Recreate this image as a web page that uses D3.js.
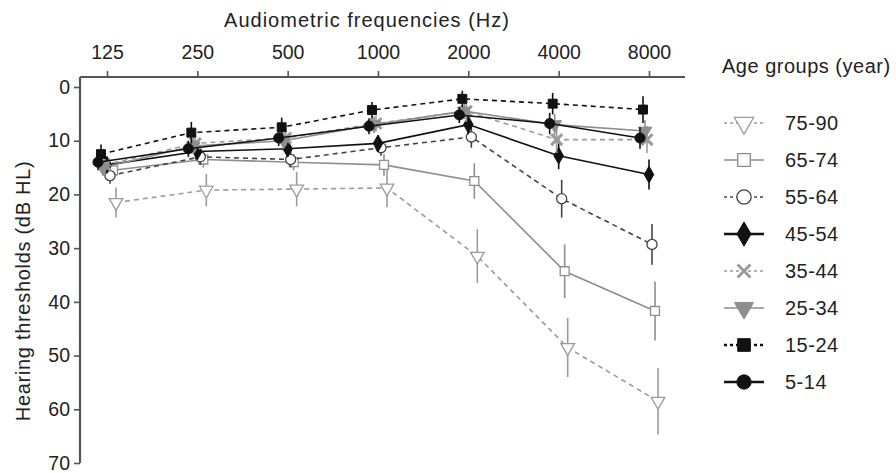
<!DOCTYPE html>
<html>
<head>
<meta charset="utf-8">
<script src="https://cdn.jsdelivr.net/npm/d3@7"></script>
<style>
body { margin: 0; background: #fff; }
text { font-family: "Liberation Sans", Arial, sans-serif; fill: #222; }
</style>
</head>
<body>
<div id="chart"></div>
<script>
var width = 896;
var height = 473;

// Frequencies (Hz) and age groups
var frequencies = [125, 250, 500, 1000, 2000, 4000, 8000];
var ageGroups = ["75-90", "65-74", "55-64", "45-54", "35-44", "25-34", "15-24", "5-14"];
var yTicks = [0, 10, 20, 30, 40, 50, 60, 70];

// Mean hearing thresholds (dB HL), one row per age group
var t75_90 = [21.5, 19.2, 19.0, 18.8, 31.5, 48.5, 58.5];
var t65_74 = [15.5, 13.5, 14.0, 14.5, 17.5, 34.3, 41.7];
var t55_64 = [16.5, 13.0, 13.5, 11.3, 9.3, 20.8, 29.3];
var t45_54 = [14.5, 12.0, 11.5, 10.5, 7.0, 12.8, 16.3];
var t35_44 = [14.5, 10.5, 9.5, 6.8, 4.5, 9.8, 9.8];
var t25_34 = [15.0, 11.0, 10.0, 7.0, 4.5, 7.0, 8.2];
var t15_24 = [12.5, 8.5, 7.5, 4.3, 2.2, 3.1, 4.2];
var t5_14 = [14.0, 11.5, 9.5, 7.3, 5.2, 6.8, 9.5];
var thresholds = [t75_90, t65_74, t55_64, t45_54, t35_44, t25_34, t15_24, t5_14];

// Error bar half-lengths (dB)
var e75_90 = [2.8, 3.0, 3.2, 3.6, 5.0, 5.5, 6.2];
var e65_74 = [1.5, 1.5, 1.5, 2.0, 3.3, 5.0, 5.5];
var e55_64 = [1.5, 1.5, 1.5, 1.5, 2.0, 3.5, 3.8];
var e45_54 = [1.5, 1.5, 1.5, 1.5, 1.8, 2.5, 2.8];
var e35_44 = [1.5, 1.5, 1.5, 1.5, 2.0, 2.5, 2.5];
var e25_34 = [1.5, 1.5, 1.5, 1.5, 1.5, 2.0, 2.0];
var e15_24 = [1.8, 2.0, 1.8, 1.5, 1.5, 2.0, 2.5];
var e5_14 = [1.5, 1.5, 1.5, 1.5, 1.5, 2.0, 2.0];
var errors = [e75_90, e65_74, e55_64, e45_54, e35_44, e25_34, e15_24, e5_14];

// Look of each series (same order as ageGroups)
var styles = [
    { color: "#9b9b9b", dash: "5,4", symbol: "triDown", filled: false, dx: 9 },
    { color: "#8e8e8e", dash: null, symbol: "square", filled: false, dx: 6 },
    { color: "#444", dash: "5,4", symbol: "circle", filled: false, dx: 3 },
    { color: "#111", dash: null, symbol: "diamond", filled: true, dx: 0 },
    { color: "#9b9b9b", dash: "5,4", symbol: "x", filled: false, dx: -2 },
    { color: "#8e8e8e", dash: null, symbol: "triDown", filled: true, dx: -4 },
    { color: "#111", dash: "5,4", symbol: "square", filled: true, dx: -6 },
    { color: "#111", dash: null, symbol: "circle", filled: true, dx: -9 }
];

var xScale = d3.scaleLog().base(2)
    .domain([125, 8000])
    .range([107, 649]);

var yScale = d3.scaleLinear()
    .domain([0, 70])
    .range([87, 463]);

var axisTop = 77;
var axisLeft = 80;

var svg = d3.select("#chart")
    .append("svg")
    .attr("width", width)
    .attr("height", height);

function symbolPath(name, size) {
    var type = { triDown: d3.symbolTriangle, square: d3.symbolSquare, circle: d3.symbolCircle,
                 diamond: d3.symbolDiamond, x: d3.symbolX }[name];
    return d3.symbol().type(type).size(size)();
}

function drawMarker(g, st, size) {
    var p = g.append("path")
        .attr("d", symbolPath(st.symbol, size))
        .attr("stroke", st.color);
    if (st.symbol === "triDown") p.attr("transform", "rotate(180)");
    if (st.symbol === "x") {
        p.attr("fill", "none").attr("stroke-width", 3);
    } else {
        p.attr("fill", st.filled ? st.color : "#fff")
         .attr("stroke-width", st.filled ? 1 : 1.3);
    }
}

// Series: lines, error bars, markers
ageGroups.forEach(function (grp, i) {
    var st = styles[i];
    var pts = frequencies.map(function (f, j) {
        return { x: xScale(f) + st.dx, y: yScale(thresholds[i][j]), e: errors[i][j], v: thresholds[i][j] };
    });
    var g = svg.append("g");

    g.append("path")
        .datum(pts)
        .attr("fill", "none")
        .attr("stroke", st.color)
        .attr("stroke-width", 1.6)
        .attr("stroke-dasharray", st.dash)
        .attr("d", d3.line().x(function (d) { return d.x; }).y(function (d) { return d.y; }));

    g.selectAll(".err")
        .data(pts)
        .enter()
        .append("line")
        .attr("x1", function (d) { return d.x; })
        .attr("x2", function (d) { return d.x; })
        .attr("y1", function (d) { return yScale(d.v - d.e); })
        .attr("y2", function (d) { return yScale(d.v + d.e); })
        .attr("stroke", st.color)
        .attr("stroke-width", 1.6);

    pts.forEach(function (d) {
        var m = g.append("g").attr("transform", "translate(" + d.x + "," + d.y + ")");
        drawMarker(m, st, 80);
    });
});

// Top x axis
var xAxis = d3.axisTop(xScale)
    .tickValues(frequencies)
    .tickFormat(d3.format("d"))
    .tickSize(6)
    .tickSizeOuter(0);
var gx = svg.append("g")
    .attr("transform", "translate(0," + axisTop + ")")
    .call(xAxis);
gx.select(".domain").remove();
gx.append("line")
    .attr("x1", axisLeft).attr("x2", 685)
    .attr("stroke", "#555").attr("stroke-width", 2.2);
gx.selectAll(".tick line").attr("stroke", "#555").attr("stroke-width", 1.6);
gx.selectAll(".tick text")
    .attr("y", -18)
    .attr("font-size", "19.5px")
    .attr("fill", "#222");

// Left y axis
var yAxis = d3.axisLeft(yScale)
    .tickValues(yTicks)
    .tickSize(6)
    .tickSizeOuter(0);
var gy = svg.append("g")
    .attr("transform", "translate(" + axisLeft + ",0)")
    .call(yAxis);
gy.select(".domain").remove();
gy.append("line")
    .attr("y1", axisTop).attr("y2", yScale(70))
    .attr("stroke", "#555").attr("stroke-width", 2.2);
gy.selectAll(".tick line").attr("stroke", "#555").attr("stroke-width", 1.6);
gy.selectAll(".tick text")
    .attr("x", -10)
    .attr("font-size", "19.5px")
    .attr("fill", "#222");

// Axis titles
svg.append("text")
    .attr("x", 367)
    .attr("y", 27)
    .attr("text-anchor", "middle")
    .attr("font-size", "20px")
    .attr("letter-spacing", "1px")
    .text("Audiometric frequencies (Hz)");

svg.append("text")
    .attr("transform", "rotate(-90)")
    .attr("x", -291)
    .attr("y", 30)
    .attr("text-anchor", "middle")
    .attr("font-size", "20px")
    .attr("letter-spacing", "0.7px")
    .text("Hearing thresholds (dB HL)");

// Legend
svg.append("text")
    .attr("x", 722)
    .attr("y", 73)
    .attr("font-size", "20px")
    .attr("letter-spacing", "0.5px")
    .text("Age groups (year)");

var legendY = d3.scalePoint().domain(ageGroups).range([123, 382]);
ageGroups.forEach(function (grp, i) {
    var st = styles[i];
    var g = svg.append("g").attr("transform", "translate(0," + legendY(grp) + ")");
    g.append("line")
        .attr("x1", 724).attr("x2", 764)
        .attr("stroke", st.color)
        .attr("stroke-width", st.color === "#111" ? 2.4 : 1.6)
        .attr("stroke-dasharray", st.dash ? "3,3" : null);
    var m = g.append("g").attr("transform", "translate(744,0)");
    drawMarker(m, st, st.symbol === "diamond" ? 170 : (st.symbol === "x" ? 110 : 160));
    g.append("text")
        .attr("x", 785)
        .attr("dy", "0.35em")
        .attr("font-size", "20px")
        .attr("letter-spacing", "0.5px")
        .text(grp);
});
</script>
</body>
</html>
